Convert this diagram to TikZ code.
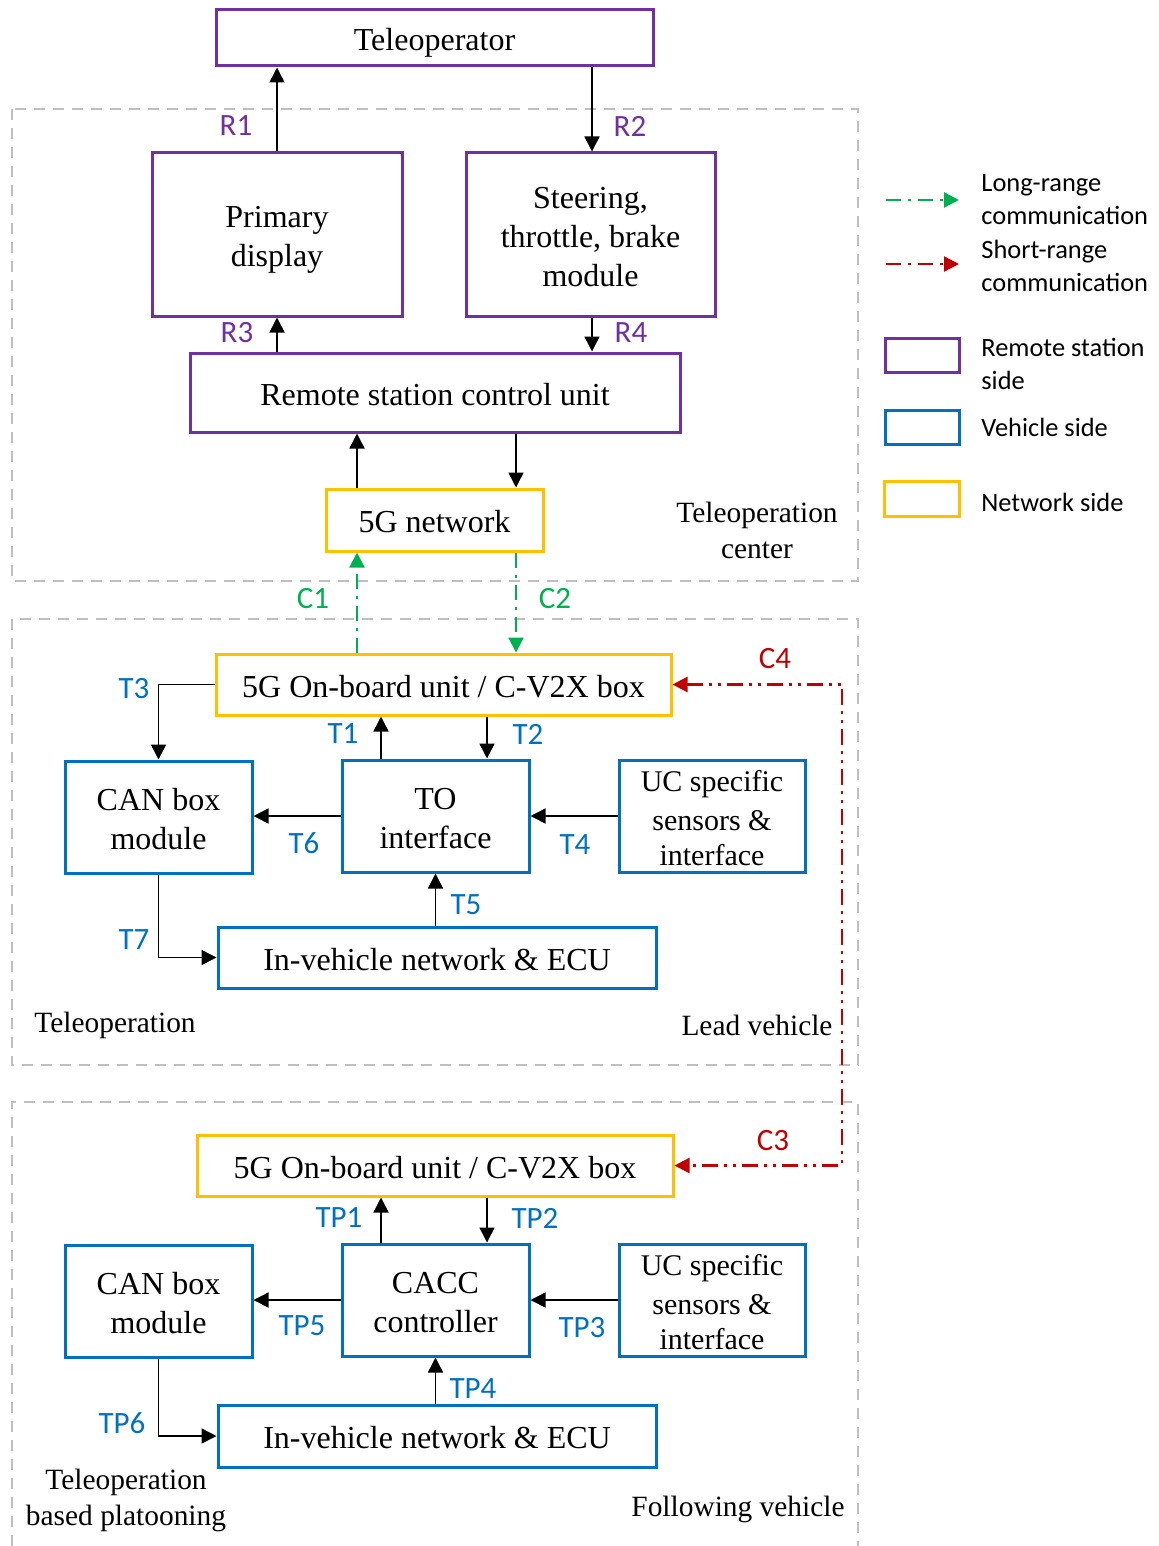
\documentclass[tikz,border=0pt]{standalone}
\usepackage{fontspec}
\setmainfont{Liberation Serif}
\newfontfamily\labfont{Carlito}
\usetikzlibrary{arrows.meta}
\definecolor{cpurple}{HTML}{7030A0}
\definecolor{cblue}{HTML}{0070C0}
\definecolor{cyellow}{HTML}{FFC000}
\definecolor{cgreen}{HTML}{00B050}
\definecolor{cred}{HTML}{C00000}
\definecolor{cgray}{HTML}{BFBFBF}
\newcommand\ls{\rule[-3.5pt]{0pt}{19.5pt}}
\newcommand\lsm{\rule[-2.5pt]{0pt}{17.5pt}}
\tikzset{
  boxbase/.style={draw, line width=1.5pt, fill=white, align=center, inner sep=2pt,
    font=\fontsize{16}{19.5}\selectfont},
  rbox/.style={boxbase, draw=cpurple},
  vbox/.style={boxbase, draw=cblue},
  nbox/.style={boxbase, draw=cyellow},
  ucbox/.style={vbox, inner ysep=0pt, minimum width=93pt, minimum height=56pt,
    font=\fontsize{15}{17.5}\selectfont},
  arr/.style={line width=0.75pt, -{Triangle[length=7.5pt,width=7.5pt]}},
  longarr/.style={draw=cgreen, line width=1.1pt, dash pattern=on 7.5pt off 3.5pt on 1.5pt off 3.5pt,
    -{Triangle[length=7.5pt,width=7.5pt]}, cgreen},
  shortarr/.style={draw=cred, line width=1.1pt, dash pattern=on 7.5pt off 3.5pt on 1.5pt off 3.5pt,
    -{Triangle[length=7.5pt,width=7.5pt]}, cred},
  region/.style={draw=cgray, line width=1pt, dash pattern=on 5.5pt off 4pt},
  lab/.style={font=\labfont\fontsize{15.5}{18}\selectfont, inner sep=0pt},
  leg/.style={font=\labfont\fontsize{13.2}{16.5}\selectfont, align=left, anchor=west, inner sep=0pt},
  gtext/.style={font=\fontsize{14.7}{18}\selectfont, align=center, inner sep=0pt},
}
\begin{document}
\begin{tikzpicture}[x=0.5pt,y=-0.5pt]
\useasboundingbox (0,0) rectangle (1158,1546);
% regions
\draw[region] (12,109) rectangle (858,581);
\draw[region] (12,619) rectangle (858,1065);
\draw[region] (12,1546) -- (12,1102) -- (858,1102) -- (858,1546);

% remote station boxes
\node[rbox, minimum width=218.5pt, minimum height=28pt] (tele) at (434.5,38) {\ls Teleoperator};
\node[rbox, minimum width=125pt, minimum height=81.5pt] (prim) at (277,234.5) {\ls Primary\\\ls display};
\node[rbox, minimum width=124.5pt, minimum height=81.5pt] (steer) at (590.5,234.5) {\ls Steering,\\\ls throttle, brake\\\ls module};
\node[rbox, minimum width=245pt, minimum height=39.5pt] (rscu) at (435,392.5) {\ls Remote station control unit};
\node[nbox, minimum width=108.5pt, minimum height=31pt] (net) at (434.5,520) {\ls 5G network};

% lead vehicle
\node[nbox, minimum width=227.5pt, minimum height=30.5pt] (obua) at (443.5,684.5) {\ls 5G On-board unit / C-V2X box};
\node[vbox, minimum width=93.5pt, minimum height=56pt] (cana) at (158.5,817) {\ls CAN box\\\ls module};
\node[vbox, minimum width=93.5pt, minimum height=56pt] (toa) at (435.5,816) {\ls TO\\\ls interface};
\node[ucbox] (uca) at (712,816) {\lsm UC specific\\\lsm sensors \&\\\lsm interface};
\node[vbox, minimum width=219pt, minimum height=30.5pt] (ivna) at (437,957.5) {\ls In-vehicle network \& ECU};

% following vehicle
\node[nbox, minimum width=238pt, minimum height=30.5pt] (obub) at (435,1165.5) {\ls 5G On-board unit / C-V2X box};
\node[vbox, minimum width=93.5pt, minimum height=56pt] (canb) at (158.5,1301) {\ls CAN box\\\ls module};
\node[vbox, minimum width=93.5pt, minimum height=56pt] (cacc) at (435.5,1300) {\ls CACC\\\ls controller};
\node[ucbox] (ucb) at (712,1300) {\lsm UC specific\\\lsm sensors \&\\\lsm interface};
\node[vbox, minimum width=219pt, minimum height=31pt] (ivnb) at (437,1436) {\ls In-vehicle network \& ECU};

% helper columns
\coordinate (xup) at (357,0);
\coordinate (xdn) at (516,0);
\coordinate (xa) at (381,0);
\coordinate (xb) at (487,0);
\coordinate (xr) at (842,0);
\coordinate (xt) at (592,0);

% remote station arrows
\draw[arr] (prim.north) -- (prim.north |- tele.south);
\draw[arr] (xt |- tele.south) -- (xt |- steer.north);
\draw[arr] (prim.south |- rscu.north) -- (prim.south);
\draw[arr] (xt |- steer.south) -- (xt |- rscu.north);
\draw[arr] (xup |- net.north) -- (xup |- rscu.south);
\draw[arr] (xdn |- rscu.south) -- (xdn |- net.north);

% long range
\draw[longarr] (xup |- obua.north) -- (xup |- net.south);
\draw[longarr] (xdn |- net.south) -- (xdn |- obua.north);

% lead vehicle arrows
\draw[arr] (obua.west) -| (cana.north);
\draw[arr] (xa |- toa.north) -- (xa |- obua.south);
\draw[arr] (xb |- obua.south) -- (xb |- toa.north);
\draw[arr] (toa.west) -- (cana.east |- toa.west);
\draw[arr] (uca.west) -- (toa.east);
\draw[arr] (toa.south |- ivna.north) -- (toa.south);
\draw[arr] (cana.south) |- (ivna.west);

% following vehicle arrows
\draw[arr] (xa |- cacc.north) -- (xa |- obub.south);
\draw[arr] (xb |- obub.south) -- (xb |- cacc.north);
\draw[arr] (cacc.west) -- (canb.east |- cacc.west);
\draw[arr] (ucb.west) -- (cacc.east);
\draw[arr] (cacc.south |- ivnb.north) -- (cacc.south);
\draw[arr] (canb.south) |- (ivnb.west);

% short range
\draw[draw=cred, line width=1.2pt,
  dash pattern=on 8pt off 3pt on 1.5pt off 3pt on 1.5pt off 3pt,
  {Triangle[length=7.5pt,width=7.5pt]}-{Triangle[length=7.5pt,width=7.5pt]}, cred]
  (obua.east) -- (xr |- obua.east) -- (xr |- obub.east) -- (obub.east);

% labels
\node[lab, text=cpurple] (lr1) at (236,126) {R1};
\node[lab, text=cpurple] (lr2) at (630,126) {R2};
\node[lab, text=cpurple] (lr3) at (237,333) {R3};
\node[lab, text=cpurple] (lr4) at (631,333) {R4};
\node[lab, text=cgreen] (lc1) at (313,599) {C1};
\node[lab, text=cgreen] (lc2) at (555,599) {C2};
\node[lab, text=cred] (lc4) at (775,659) {C4};
\node[lab, text=cred] (lc3) at (773,1141) {C3};
\node[lab, text=cblue] (lt3) at (134,689) {T3};
\node[lab, text=cblue] (lt1) at (343,734) {T1};
\node[lab, text=cblue] (lt2) at (528,734) {T2};
\node[lab, text=cblue] (lt6) at (304,843) {T6};
\node[lab, text=cblue] (lt4) at (575,845) {T4};
\node[lab, text=cblue] (lt5) at (466,905) {T5};
\node[lab, text=cblue] (lt7) at (134,940) {T7};
\node[lab, text=cblue] (ltp1) at (339,1218) {TP1};
\node[lab, text=cblue] (ltp2) at (535,1218) {TP2};
\node[lab, text=cblue] (ltp5) at (302,1326) {TP5};
\node[lab, text=cblue] (ltp3) at (582,1328) {TP3};
\node[lab, text=cblue] (ltp4) at (473,1389) {TP4};
\node[lab, text=cblue] (ltp6) at (122,1423) {TP6};

% region texts
\node[gtext] (gc) at (757,530) {Teleoperation\\center};
\node[gtext] (gt) at (115,1025) {Teleoperation};
\node[gtext] (gl) at (757,1025) {Lead vehicle};
\node[gtext] (gp) at (126,1500) {Teleoperation\\based platooning};
\node[gtext] (gf) at (738,1509) {Following vehicle};

% legend
\coordinate (l1a) at (886,200); \coordinate (l1b) at (959,200);
\coordinate (l2a) at (886,264); \coordinate (l2b) at (959,264);
\draw[longarr] (l1a) -- (l1b);
\draw[shortarr] (l2a) -- (l2b);
\node[leg] (tl1) at (981,199.5) {Long-range\\communication};
\node[leg] (tl2) at (981,265.5) {Short-range\\communication};
\node[draw=cpurple, line width=1.5pt, minimum width=37pt, minimum height=17pt, inner sep=0pt] (bl1) at (922,355) {};
\node[draw=cblue, line width=1.5pt, minimum width=37pt, minimum height=17pt, inner sep=0pt] (bl2) at (922,427) {};
\node[draw=cyellow, line width=1.5pt, minimum width=37.5pt, minimum height=17.5pt, inner sep=0pt] (bl3) at (921.5,498.5) {};
\node[leg] (tl3) at (981,363.5) {Remote station\\side};
\node[leg] (tl4) at (981,427) {Vehicle side};
\node[leg] (tl5) at (981,502) {Network side};
\end{tikzpicture}
\end{document}
